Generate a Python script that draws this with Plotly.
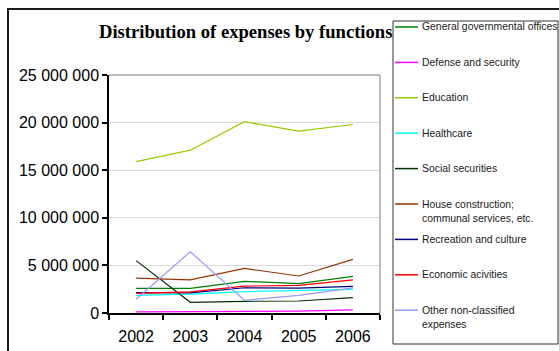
import plotly.graph_objects as go

years = ["2002", "2003", "2004", "2005", "2006"]

series_names = [
    "General governmental offices",
    "Defense and security",
    "Education",
    "Healthcare",
    "Social securities",
    "House construction;<br>communal services, etc.",
    "Recreation and culture",
    "Economic acivities",
    "Other non-classified<br>expenses",
]

general_offices = [2590000, 2590000, 3330000, 3080000, 3850000]
defense_security = [120000, 130000, 150000, 200000, 330000]
education = [15900000, 17100000, 20100000, 19100000, 19800000]
healthcare = [1850000, 1980000, 2250000, 2350000, 2490000]
social_securities = [5500000, 1120000, 1230000, 1260000, 1610000]
house_construction = [3660000, 3480000, 4680000, 3890000, 5640000]
recreation_culture = [2150000, 2120000, 2650000, 2620000, 2800000]
economic_activities = [2060000, 2220000, 2820000, 2900000, 3480000]
other_expenses = [1440000, 6440000, 1330000, 1860000, 2630000]

y_tick_values = [0, 5000000, 10000000, 15000000, 20000000, 25000000]
y_tick_labels = ["0", "5 000 000", "10 000 000", "15 000 000", "20 000 000", "25 000 000"]

series_values = [
    general_offices, defense_security, education, healthcare, social_securities,
    house_construction, recreation_culture, economic_activities, other_expenses,
]
series_colors = [
    "#008000", "#FF00FF", "#99CC00", "#00FFFF", "#003300",
    "#993300", "#000080", "#FF0000", "#9999FF",
]

W, H = 559, 351
L, R, T, B = 109, 380, 75, 313


def px_x(x):
    return (x - L) / (R - L)


def px_y(y):
    return (B - y) / (B - T)


fig = go.Figure()
for name, vals, col in zip(series_names, series_values, series_colors):
    fig.add_trace(go.Scatter(
        x=years, y=vals, mode="lines", name=name.replace("<br>", " "),
        line=dict(color=col, width=1.2), showlegend=False,
    ))

shapes = []
# outer chart frame
shapes.append(dict(type="rect", xref="paper", yref="paper",
                   x0=px_x(8), x1=px_x(575), y0=px_y(9), y1=px_y(370),
                   line=dict(color="#1a1a1a", width=2), layer="below"))
# grey top and right edges of the plot area
shapes.append(dict(type="line", xref="paper", yref="paper",
                   x0=0, x1=1, y0=1, y1=1, line=dict(color="#A6A6A6", width=1.5)))
shapes.append(dict(type="line", xref="paper", yref="paper",
                   x0=1, x1=1, y0=0, y1=1, line=dict(color="#A6A6A6", width=1.5)))
# legend frame
shapes.append(dict(type="rect", xref="paper", yref="paper",
                   x0=px_x(393), x1=px_x(558), y0=px_y(21), y1=px_y(344),
                   line=dict(color="#333333", width=1), fillcolor="white"))

annotations = []
for i, (name, col) in enumerate(zip(series_names, series_colors)):
    yc = 27 + i * 35.4
    shapes.append(dict(type="line", xref="paper", yref="paper",
                       x0=px_x(395), x1=px_x(418), y0=px_y(yc), y1=px_y(yc),
                       line=dict(color=col, width=1.5)))
    annotations.append(dict(
        xref="paper", yref="paper", x=px_x(420), y=px_y(yc - 7.5),
        xanchor="left", yanchor="top", align="left", showarrow=False,
        text=name, font=dict(family="Arial, Liberation Sans", size=10.4, color="#1a1a1a"),
    ))

annotations.append(dict(
    xref="paper", yref="paper", x=px_x(245), y=px_y(32), xanchor="center", yanchor="middle",
    showarrow=False, text="<b>Distribution of expenses by functions</b>",
    font=dict(family="Times New Roman, Liberation Serif", size=18.6, color="black"),
))

fig.update_layout(
    width=W, height=H,
    margin=dict(l=L, r=W - R, t=T, b=H - B, pad=0, autoexpand=False),
    paper_bgcolor="white", plot_bgcolor="white",
    shapes=shapes, annotations=annotations,
    font=dict(family="Arial, Liberation Sans", size=16, color="black"),
    xaxis=dict(
        type="category", range=[-0.5, 4.5], showgrid=False, automargin=False,
        showline=True, linecolor="black", linewidth=1.5,
        ticks="outside", tickson="boundaries", ticklen=5, tickcolor="black", tickwidth=1.5,
        tickfont=dict(size=16), zeroline=False, ticklabelstandoff=8,
    ),
    yaxis=dict(
        range=[0, 25000000], tickvals=y_tick_values, ticktext=y_tick_labels,
        showgrid=True, gridcolor="#D9D9D9", gridwidth=1.3, automargin=False,
        showline=True, linecolor="black", linewidth=1.5,
        ticks="outside", ticklen=5, tickcolor="black", tickwidth=1.5,
        tickfont=dict(size=16), zeroline=False,
    ),
)

fig.write_html("out.html")
